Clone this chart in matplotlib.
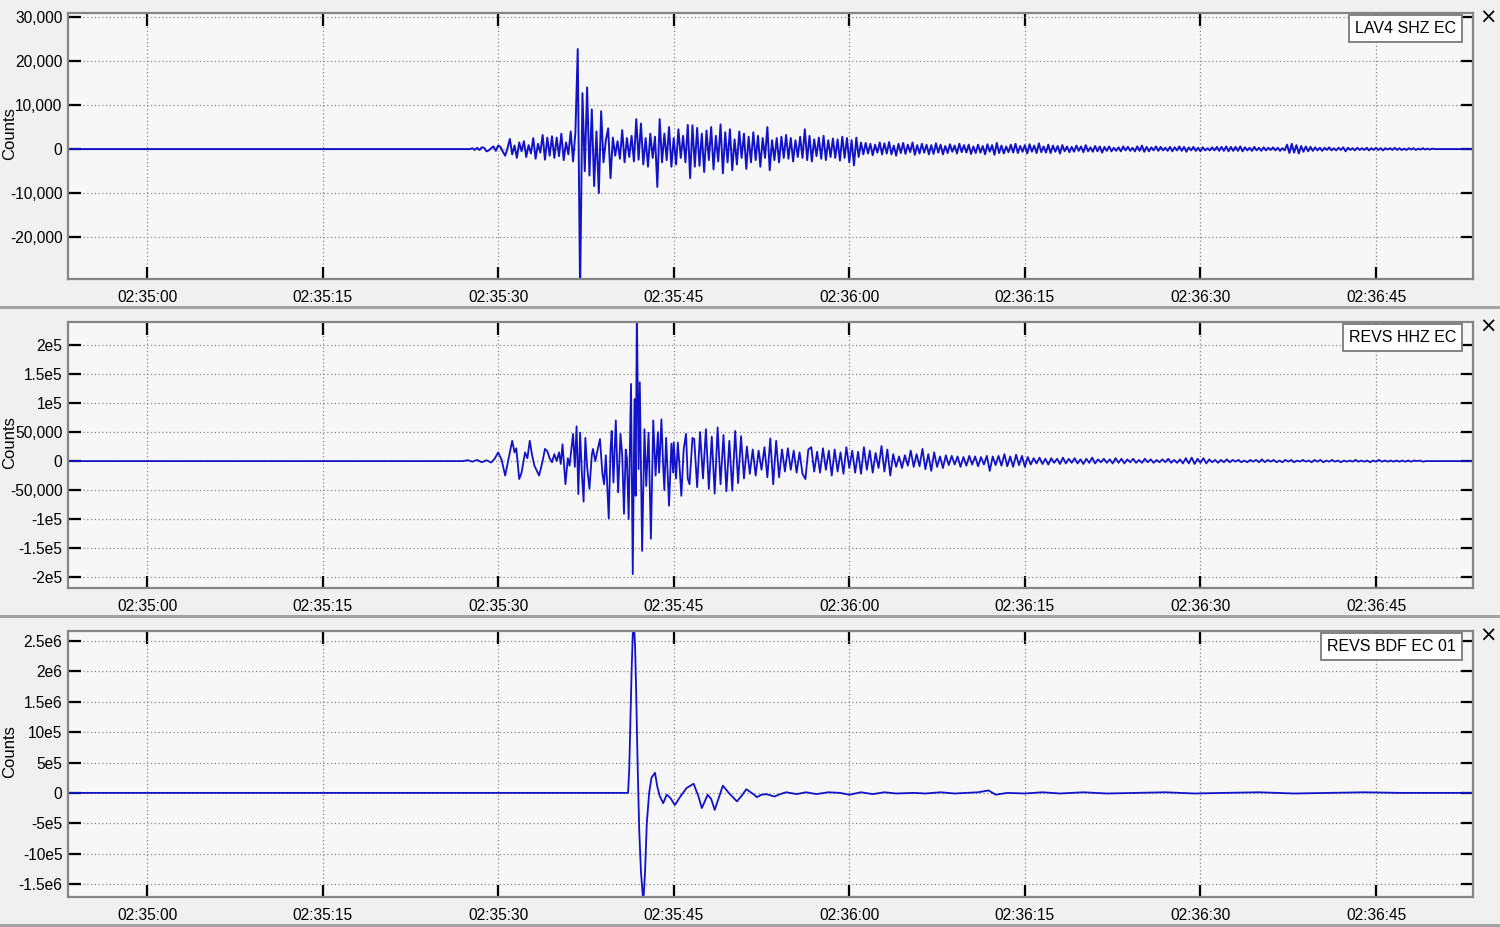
import numpy as np
import matplotlib
matplotlib.use('Agg')
import matplotlib.pyplot as plt
from matplotlib.lines import Line2D

# ---------------- data ----------------
# time axis: seconds after 02:35:00
tick_seconds = [0, 15, 30, 45, 60, 75, 90, 105]
tick_labels = ['02:35:00', '02:35:15', '02:35:30', '02:35:45',
               '02:36:00', '02:36:15', '02:36:30', '02:36:45']
station_labels = ['LAV4 SHZ EC', 'REVS HHZ EC', 'REVS BDF EC 01']

# Trace 1 (LAV4 SHZ), thousands of counts, sampled every 0.2 s from t=27.0 s
lav4_start = 27.0
lav4_dt = 0.2
lav4_k = [
    0, 0, 0, 0, 0.2, -0.2, 0.3, -0.2, 0.4, 0.3, -0.5, -0.3, 0.2, 0.6, -0.4, 0.8, 0.5, -0.6, -1.5, 0.2,
    2.3, -1.2, 0.8, -2.0, 1.5, -0.5, 1.8, -1.8, 0.9, -1.0, 2.5, -2.2, 1.2, -0.8, 3.2, -2.4, 2.6, -1.5, 2.9, -2.0,
    2.6, -1.6, 3.5, -2.5, 1.5, -1.2, 4.0, -2.8, 3.8, 22.7, -33.0, 12.7, -5.0, 14.0, -6.0, 9.0, -8.4, 4.0, -10.0, 8.6,
    -3.0, 2.0, 4.7, -6.6, 2.6, -1.5, 1.8, -2.2, 4.3, -3.0, 2.5, -1.8, 3.0, -2.8, 6.8, -2.4, 5.8, -3.5, 2.5, -4.0,
    3.5, -2.0, 2.8, -8.6, 6.8, -3.0, 3.5, -2.5, 5.0, -4.0, 2.5, -3.5, 4.5, -2.0, 3.0, -3.0, 5.5, -6.6, 5.4, -4.0,
    4.8, -3.8, 3.5, -5.2, 4.2, -2.5, 5.0, -4.6, 3.0, -2.8, 5.6, -5.5, 3.8, -3.0, 4.5, -4.8, 2.2, -3.5, 4.0, -2.0,
    3.5, -4.5, 2.8, -3.0, 3.8, -2.5, 3.0, -4.0, 2.5, -2.0, 5.0, -4.8, 2.0, -2.5, 2.5, -3.0, 2.8, -2.0, 3.2, -2.2,
    2.5, -2.8, 2.0, -1.8, 2.8, -2.0, 4.5, -2.5, 3.0, -2.8, 2.2, -1.6, 2.6, -2.2, 3.0, -2.5, 2.0, -1.8, 2.4, -2.0,
    2.2, -2.6, 2.8, -2.0, 2.5, -3.0, 2.0, -3.7, 2.6, -1.8, 1.5, -1.2, 1.4, -1.0, 1.2, -1.4, 1.0, -0.8, 1.5, -1.2,
    1.3, -1.0, 1.6, -1.2, 0.8, -1.5, 1.2, -0.9, 1.4, -1.1, 1.0, -0.7, 1.5, -1.3, 0.9, -1.0, 1.2, -0.8, 1.0, -1.2,
    0.9, -1.1, 1.3, -0.8, 1.0, -1.2, 0.7, -0.9, 1.1, -0.6, 0.8, -1.0, 1.2, -0.7, 0.9, -0.8, 1.0, -1.1, 0.6, -0.9,
    1.0, -0.8, 0.7, -1.2, 1.1, -0.6, 0.9, -1.3, 1.4, -0.9, 0.8, -1.0, 0.6, -0.7, 1.0, -0.8, 1.2, -0.9, 0.7, -0.6,
    0.9, -1.0, 1.1, -0.6, 0.8, -0.9, 1.3, -0.7, 0.6, -0.8, 1.0, -0.9, 0.8, -0.6, 0.7, -1.0, 0.9, -0.5, 0.6, -0.7,
    0.5, -0.6, 0.8, -0.4, 0.6, -0.7, 0.9, -0.5, 0.4, -0.6, 0.7, -0.5, 0.6, -0.8, 0.5, -0.4, 0.6, -0.5, 0.3, -0.4,
    0.4, -0.5, 0.6, -0.3, 0.5, -0.4, 0.3, -0.5, 0.6, -0.4, 0.8, -0.6, 0.5, -0.5, 0.4, -0.3, 0.6, -0.4, 0.5, -0.3,
    0.3, -0.4, 0.5, -0.5, 0.4, -0.3, 0.6, -0.4, 0.5, -0.6, 0.4, -0.3, 0.5, -0.4, 0.3, -0.5, 0.4, -0.3, 0.2, -0.3,
    0.4, -0.3, 0.5, -0.4, 0.5, -0.4, 0.6, -0.5, 0.5, -0.4, 0.5, -0.4, 0.6, -0.5, 0.4, -0.3, 0.3, -0.4, 0.5, -0.3,
    0.3, -0.4, 0.4, -0.3, 0.3, -0.2, 0.4, -0.3, 0.3, -0.4, 0.2, -0.3, 1.0, -0.9, 1.2, -0.8, 0.9, -1.0, 0.7, -0.6,
    0.6, -0.5, 0.5, -0.4, 0.4, -0.3, 0.3, -0.4, 0.3, -0.2, 0.4, -0.3, 0.2, -0.3, 0.3, -0.2, 0.4, -0.5, 0.3, -0.2,
    0.2, -0.3, 0.3, -0.2, 0.2, -0.2, 0.3, -0.3, 0.2, -0.2, 0.3, -0.2, 0.2, -0.3, 0.2, -0.1, 0.2, -0.2, 0.3, -0.2,
    0.2, -0.2, 0.1, -0.2, 0.2, -0.1, 0.2, -0.2, 0.1, -0.1, 0.2, -0.1, 0.1, -0.1, 0.1, 0, 0, 0, 0, 0,
]

# Trace 2 (REVS HHZ), thousands of counts: early part as (time, value) picks
revs_t_early = [26.0, 27.0, 27.4, 27.8, 28.2, 28.6, 29.0, 29.4, 29.7, 30.0, 30.3, 30.6, 30.9, 31.2, 31.4,
                31.55, 31.8, 32.0, 32.3, 32.5, 32.7, 32.9, 33.1, 33.5, 33.8, 34.0, 34.2, 34.4, 34.6, 34.8,
                35.0, 35.2, 35.35, 35.5, 35.75, 35.95, 36.1, 36.25, 36.4, 36.55, 36.7, 36.85, 37.0, 37.15,
                37.3, 37.45, 37.6, 37.8, 38.0, 38.1, 38.3, 38.45, 38.7, 38.9, 39.05, 39.2, 39.45, 39.6, 39.7,
                39.85, 40.05, 40.25, 40.45, 40.6, 40.75, 40.9, 41.0, 41.15, 41.35, 41.5, 41.65, 41.75, 41.85,
                42.0, 42.1, 42.3, 42.5, 42.65, 42.85, 43.05, 43.25, 43.45, 43.65, 43.75, 43.95, 44.1, 44.2,
                44.35, 44.6, 44.8, 44.95, 45.0, 45.2, 45.35, 45.5, 45.65, 45.85, 46.05, 46.2, 46.35, 46.6]
revs_v_early = [0, 0, 1.5, -1, 2, -2, 1.5, -2.5, 4, 15, 2, -25, 5, 35, 15,
                22, -31, -20, 15, 5, 35, 10, -8, -25, 0, 21, 17, 5, -2, 12,
                0, 15, -5, 29, -40, 5, -8, 20, 47, -10, 60, -57, 49, -20,
                -70, 40, -10, -48, 10, 21, 0, 15, 38, -20, -40, 10, -99, 20, 52,
                -37, 70, -54, 47, 10, -91, 20, 5, -100, 133, -195, 107, -60, 260,
                -14, 136, -155, 55, -43, 49, -134, 70, -25, 50, -20, 72, -10, -50,
                40, -77, 30, -20, 32, -30, 32, -10, -60, 20, 47, -30, -40, 40]
# coda sampled every 0.25 s from t=46.75 s
revs_coda_start = 46.75
revs_coda_dt = 0.25
revs_coda_k = [
    38, -45, 50, -30, 55, -48, 42, -56, 58, -40, 45, -52, 35, -51, 52, -38,
    43, -30, 25, -22, 20, -25, 18, -15, 24, -28, 39, -40, 35, -28, 20, -18,
    22, -15, 18, -20, 15, -22, -31, 20, 24, -18, 16, -20, 22, -15, 18, -25,
    20, -18, 15, -22, 24, -12, 18, -20, 16, -22, 24, -15, 18, -20, 14, -12,
    26, -18, 20, -25, 12, -10, 8, -12, 10, -8, 18, -10, 12, -9, 21, -14,
    12, -17, 15, -10, 8, -12, 10, -7, 9, -6, 8, -10, 7, -8, 9, -6,
    8, -9, 7, -6, 9, -17, 8, -7, 9, -8, 12, -9, 8, -10, 11, -7,
    9, -10, 7, -6, 5, -4, 6, -5, 4, -6, 5, -3, 4, -5, 6, -4,
    4, -3, 5, -4, 3, -5, 4, -3, 6, -4, 3, -2, 4, -3, 3, -4,
    5, -3, 4, -4, 3, -2, 4, -3, 2, -3, 4, -2, 3, -3, 2, -2,
    3, -2, 4, -3, 2, -3, 3, -4, 5, -4, 6, -5, 4, -3, 5, -4,
    3, -2, 2, -3, 2, -2, 3, -2, 2, -1, 2, -2, 1, -2, 2, -1,
    2, -2, 3, -2, 2, -1, 2, -2, 1, -2, 2, -1, 2, -2, 1, -1,
    2, -1, 1, -2, 2, -1, 2, -2, 1, -1, 2, -1, 1, -2, 1, -1,
    1, -1, 2, -1, 1, -1, 1, -2, 1, -1, 2, -1, 1, -1, 1, -1,
    1, -1, 1, -1, 1, -1, 1, 0, 1, -1, 0, 0, 0, 0, 0, 0,
]

# Trace 3 (REVS BDF), units of 1e5 counts, (time, value) picks
bdf_t = [-7.0, 41.1, 41.2, 41.3, 41.4, 41.5, 41.6, 41.7, 41.8, 41.9, 42.05, 42.2, 42.4, 42.55, 42.7,
         42.9, 43.1, 43.4, 43.6, 43.8, 44.1, 44.4, 44.7, 45.1, 45.6, 46.1, 46.7, 47.1, 47.4, 47.7,
         47.9, 48.2, 48.5, 48.85, 49.2, 49.7, 50.4, 50.8, 51.2, 51.8, 52.1, 52.5, 52.9, 53.6, 54.1,
         54.6, 55.5, 56.3, 57.2, 58.2, 59.2, 60.0, 61.0, 62.0, 63.0, 64.0, 65.5, 66.5, 67.8, 69.0,
         70.0, 71.0, 71.9, 72.5, 73.5, 75.0, 76.5, 78.0, 80.0, 82.0, 84.5, 87.0, 89.5, 92.0, 95.0,
         98.0, 101.0, 104.0, 107.0, 110.0, 114.0]
bdf_v = [0, 0, 4, 12, 20, 26, 28, 24, 16, 6, -6, -13, -18, -13, -5,
         0, 2.5, 3.3, 1.0, -0.5, -1.7, -0.3, -0.8, -2.0, -0.5, 0.8, 1.5, -0.5, -2.5, -1.2,
         -0.3, -1.0, -2.8, -0.8, 1.2, 0.0, -1.4, -0.5, 0.6, -0.2, -0.7, -0.3, -0.2, -0.6, -0.2,
         0.1, -0.2, 0.1, -0.2, 0.1, 0.0, -0.3, 0.1, -0.2, 0.1, -0.1, 0.0, -0.1, 0.1, -0.1,
         0.0, 0.1, 0.4, -0.3, 0.0, -0.1, 0.1, -0.1, 0.1, -0.1, 0.0, 0.1, -0.1, 0.0, 0.1,
         -0.1, 0.0, 0.1, 0.0, 0.0, 0.0]

p1_yticks = [-20000, -10000, 0, 10000, 20000, 30000]
p1_ylabels = ['-20,000', '-10,000', '0', '10,000', '20,000', '30,000']
p2_yticks = [-2e5, -1.5e5, -1e5, -5e4, 0, 5e4, 1e5, 1.5e5, 2e5]
p2_ylabels = ['-2e5', '-1.5e5', '-1e5', '-50,000', '0', '50,000', '1e5', '1.5e5', '2e5']
p3_yticks = [-1.5e6, -1e6, -5e5, 0, 5e5, 1e6, 1.5e6, 2e6, 2.5e6]
p3_ylabels = ['-1.5e6', '-10e5', '-5e5', '0', '5e5', '10e5', '1.5e6', '2e6', '2.5e6']

# ---------------- build series ----------------
lav4_v = np.array(lav4_k) * 1e3
lav4_t = lav4_start + lav4_dt * np.arange(len(lav4_v))
t1 = np.concatenate([[-7.0, lav4_start - lav4_dt], lav4_t, [114.0]])
y1 = np.concatenate([[0, 0], lav4_v, [0]])

coda_v = np.array(revs_coda_k) * 1e3
coda_t = revs_coda_start + revs_coda_dt * np.arange(len(coda_v))
t2 = np.concatenate([[-7.0], revs_t_early, coda_t, [114.0]])
y2 = np.concatenate([[0], np.array(revs_v_early) * 1e3, coda_v, [0]])

t3 = np.array(bdf_t)
y3 = np.array(bdf_v) * 1e5

# ---------------- figure ----------------
W, H = 1500, 927
fig = plt.figure(figsize=(W / 100, H / 100), dpi=100, facecolor='#f0f0f0')
plt.rcParams['font.family'] = ['Liberation Sans', 'DejaVu Sans']

LINE = '#1212c8'
panels = [
    (13, 279, t1, y1, (-29500, 30900), p1_yticks, p1_ylabels, 1.4),
    (322, 588, t2, y2, (-219000, 240000), p2_yticks, p2_ylabels, 1.3),
    (631, 897, t3, y3, (-1.714e6, 2.665e6), p3_yticks, p3_ylabels, 1.3),
]
left, right = 68, 1473
for i, (top, bot, tt, yy, ylim, yt, yl, lw) in enumerate(panels):
    ax = fig.add_axes([left / W, 1 - bot / H, (right - left) / W, (bot - top) / H])
    ax.set_facecolor('#f7f7f7')
    ax.plot(tt, yy, color=LINE, lw=lw)
    ax.set_xlim((left - 147) / 11.705, (right - 147) / 11.705)
    ax.set_ylim(*ylim)
    ax.set_xticks(tick_seconds)
    ax.set_xticklabels(tick_labels)
    ax.set_yticks(yt)
    ax.set_yticklabels(yl)
    ax.tick_params(axis='both', direction='in', length=9, width=1.6, color='black',
                   top=True, right=True, labelsize=11.2)
    ax.tick_params(axis='x', pad=8)
    ax.tick_params(axis='y', pad=4)
    ax.grid(True, color='#8a8a8a', linestyle=(0, (1, 2)), linewidth=0.9)
    ax.set_axisbelow(True)
    for s in ax.spines.values():
        s.set_color('#858585')
        s.set_linewidth(1.6)
    ax.set_ylabel('Counts', fontsize=12)
    ax.yaxis.set_label_coords((17.5 - left) / (right - left), 0.545)
    ax.text(1 - 17 / (right - left), 1 - 8 / (bot - top), station_labels[i],
            transform=ax.transAxes, ha='right', va='top', fontsize=11.5, color='black',
            bbox=dict(boxstyle='square,pad=0.38', fc='white', ec='#7a7a7a', lw=1.3), zorder=5)
    fig.text(1488 / W, 1 - (top + 5) / H, '\u00d7', ha='center', va='center',
             fontsize=15, family=['DejaVu Sans'])

for ysep in (307, 616, 925):
    fig.add_artist(Line2D([0, 1], [1 - ysep / H] * 2, color='#a3a3a3', lw=2.2,
                          transform=fig.transFigure))

fig.savefig('out.png', dpi=100, facecolor=fig.get_facecolor())
